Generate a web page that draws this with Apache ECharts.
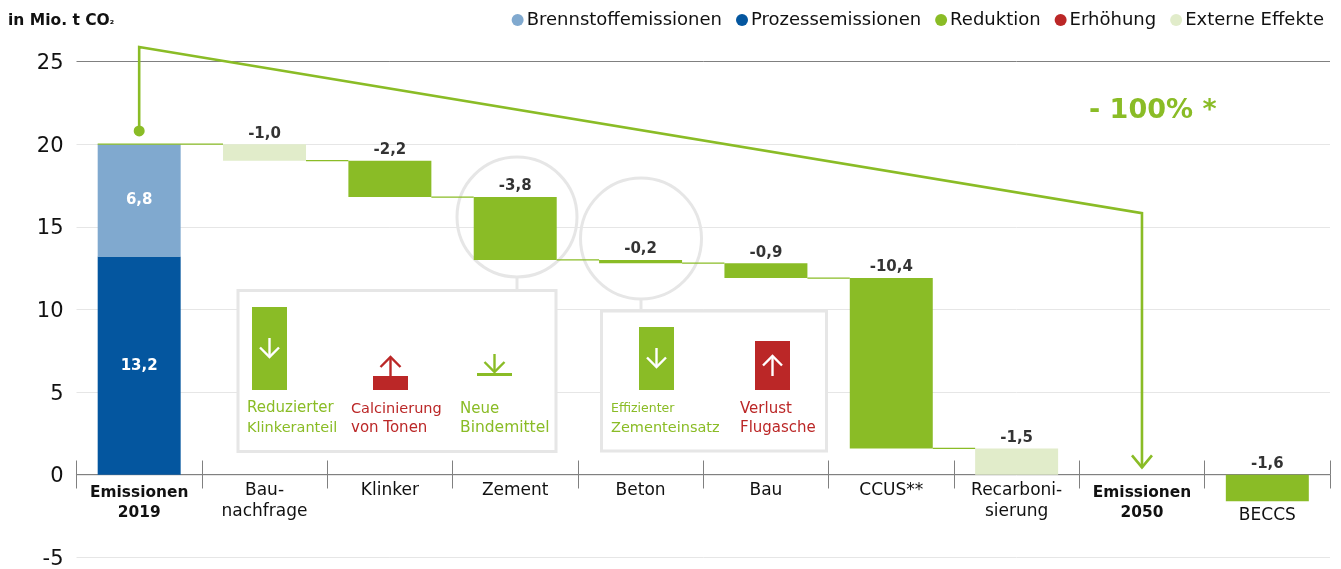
<!DOCTYPE html>
<html><head><meta charset="utf-8">
<style>html,body{margin:0;padding:0;background:#fff}#c{width:1341px;height:569px}</style>
<script src="https://cdn.jsdelivr.net/npm/echarts@6/dist/echarts.min.js"></script>
</head><body><div id="c"></div>
<script>
const categories=['Emissionen\n2019','Bau-\nnachfrage','Klinker','Zement','Beton','Bau','CCUS**','Recarboni-\nsierung','Emissionen\n2050','BECCS'];
const baseValues=[0,19,16.8,13,12.8,11.9,1.6,0,0,0];
const prozess=[13.2,null,null,null,null,null,null,null,null,null];
const brennstoff=[6.8,null,null,null,null,null,null,null,null,null];
const reduktion=[null,null,2.2,3.8,0.2,0.9,10.3,null,null,-1.6];
const erhoehung=[null,null,null,null,null,null,null,null,null,null];
const extern=[null,1,null,null,null,null,null,1.6,null,null];
const valueLabels=['','-1,0','-2,2','-3,8','-0,2','-0,9','-10,4','-1,5','','-1,6'];
const labelAnchors=[null,20,19,16.8,13,12.8,11.9,1.6,null,0];
const connectors=[[0,20],[1,19],[2,16.8],[3,13],[4,12.8],[5,11.9],[6,1.6]];
const guidePath=[[0,25.88],[8,15.83],[8,0.45]];
const guideStart=[0,20.8];
const yTicks=[-5,25,5];

const GREEN='#8abc26',RED='#bb2727',LGREEN='#e1ecca',LBLUE='#80a9cf',BLUE='#04569f',GREY='#e6e6e6',INK='#111';
const FONT='"DejaVu Sans"';
const HALF=0.331;

function stackBar(name,data,color,label){
  return {name,type:'bar',stack:'w',barWidth:'66.2%',data,itemStyle:{color},
    label:label||{show:false},emphasis:{disabled:true}};
}
const inLabel=(t)=>({show:true,position:'inside',formatter:t,color:'#fff',fontFamily:FONT,fontWeight:'bold',fontSize:15});

const arrowDown=(x,y1,y2,w,h,color,lw)=>[
 {type:'line',z:5,shape:{x1:x,y1,x2:x,y2},style:{stroke:color,lineWidth:lw}},
 {type:'polyline',z:5,shape:{points:[[x-w,y2-h],[x,y2],[x+w,y2-h]]},style:{stroke:color,lineWidth:lw,fill:null}}];
const arrowUp=(x,y1,y2,w,h,color,lw)=>[
 {type:'line',z:5,shape:{x1:x,y1,x2:x,y2},style:{stroke:color,lineWidth:lw}},
 {type:'polyline',z:5,shape:{points:[[x-w,y2+h],[x,y2],[x+w,y2+h]]},style:{stroke:color,lineWidth:lw,fill:null}}];
const rect=(x,y,width,height,fill)=>({type:'rect',z:4,shape:{x,y,width,height},style:{fill}});
const txt=(x,y,text,fill,size)=>({type:'text',z:5,x,y,style:{text,fill,font:`${size}px ${FONT}`,verticalAlign:'middle'}});
const frame=(x,y,width,height)=>({type:'rect',z:1,shape:{x,y,width,height},style:{fill:'#fff',stroke:GREY,lineWidth:3}});
const ring=(cx,cy,r)=>({type:'circle',z:1,shape:{cx,cy,r},style:{fill:null,stroke:GREY,lineWidth:3}});
const stub=(x,y1,y2)=>({type:'line',z:1,shape:{x1:x,y1,x2:x,y2},style:{stroke:GREY,lineWidth:3}});

const graphics=[
 ring(517,217,60),ring(641,238.5,60.5),stub(517,277,290),stub(641,299,311),
 frame(238,290.5,318,161),frame(601.5,311,225,140),
 rect(252,307,35,83,GREEN),...arrowDown(269.5,338,357,9.5,9.5,'#fff',2.4),
 rect(373,376,35,14,RED),...arrowUp(390.5,376,357,10,10,RED,2.4),
 rect(477,373,35,3,GREEN),...arrowDown(494.5,354,372,10,10,GREEN,2.4),
 txt(247,408,'Reduzierter',GREEN,15),txt(247,428,'Klinkeranteil',GREEN,14.5),
 txt(351,409,'Calcinierung',RED,14.5),txt(351,428,'von Tonen',RED,15),
 txt(460,409,'Neue',GREEN,15),txt(460,428,'Bindemittel',GREEN,15.5),
 rect(639,327,35,63,GREEN),...arrowDown(656.5,348,367,9.5,9.5,'#fff',2.4),
 rect(755,341,35,49,RED),...arrowUp(772.5,376,356,9.5,9.5,'#fff',2.4),
 txt(611,409,'Effizienter',GREEN,12.5),txt(611,428,'Zementeinsatz',GREEN,14.5),
 txt(740,409,'Verlust',RED,15),txt(740,428,'Flugasche',RED,15),
 {type:'text',z:5,x:8,y:13,style:{rich:{a:{fill:INK,fontWeight:'bold',fontSize:15.5,fontFamily:FONT},s:{fontSize:10,fontWeight:'bold',fontFamily:FONT,fill:INK}},text:'{a|in Mio. t CO}{s|₂}'}},
 {type:'text',z:5,x:1089,y:111,style:{text:'- 100% *',fill:GREEN,font:`bold 27px ${FONT}`,verticalAlign:'middle'}}
];

const chart=echarts.init(document.getElementById('c'),null,{renderer:'canvas'});
chart.setOption({
 animation:false,backgroundColor:'#fff',
 grid:{left:76.5,right:11,top:61.5,bottom:11.5,containLabel:false,outerBoundsMode:'none'},
 legend:{top:6,right:12,icon:'circle',itemWidth:12,itemHeight:12,itemGap:14,selectedMode:false,
   textStyle:{fontFamily:FONT,fontSize:18,color:INK,padding:[0,0,0,-2]},
   data:['Brennstoffemissionen','Prozessemissionen','Reduktion','Erhöhung','Externe Effekte']},
 xAxis:[
  {type:'category',data:categories,position:'bottom',offset:-83,axisLine:{onZero:false,lineStyle:{color:'#808080',width:1.2}},
   axisTick:{show:true,alignWithLabel:false,length:14,lineStyle:{color:'#808080',width:1}},
   axisLabel:{interval:0,margin:6,hideOverlap:false,
    formatter:(v)=>{
      if(v==='BECCS') return '{s|BECCS}';
      const bold=v.startsWith('Emissionen');
      return v.split('\n').map((l,i)=>bold?`{b${i}|${l}}`:`{n|${l}}`).join('\n');
    },
    rich:{
      n:{fontFamily:FONT,fontSize:17,color:INK,lineHeight:21},
      b0:{fontFamily:FONT,fontSize:15.4,fontWeight:'bold',color:INK,lineHeight:25},
      b1:{fontFamily:FONT,fontSize:15.4,fontWeight:'bold',color:INK,lineHeight:15},
      s:{fontFamily:FONT,fontSize:17,color:INK,lineHeight:71}
    }}},
  {type:'category',data:categories,position:'top',offset:-413,axisLine:{onZero:false,show:false},
   axisTick:{show:true,alignWithLabel:false,length:14,lineStyle:{color:'#808080',width:1}},
   axisLabel:{show:false}}
 ],
 yAxis:{type:'value',min:yTicks[0],max:yTicks[1],interval:yTicks[2],
   axisLine:{show:false},axisTick:{show:false},
   axisLabel:{fontFamily:FONT,fontSize:21,color:INK,margin:13,verticalAlign:'top',lineHeight:4},
   splitLine:{show:true,lineStyle:{width:1,color:[GREY,GREY,GREY,GREY,GREY,GREY,'#808080']}}},
 graphic:{elements:graphics},
 series:[
  {name:'base',type:'bar',stack:'w',barWidth:'66.2%',data:baseValues,itemStyle:{color:'transparent'},silent:true},
  stackBar('Prozessemissionen',prozess,BLUE,inLabel('13,2')),
  stackBar('Brennstoffemissionen',brennstoff,LBLUE,inLabel('6,8')),
  stackBar('Reduktion',reduktion,GREEN),
  stackBar('Erhöhung',erhoehung,RED),
  stackBar('Externe Effekte',extern,LGREEN),
  {name:'connectors',type:'custom',z:3,silent:true,data:connectors,clip:false,
   renderItem:(p,api)=>{
     const i=api.value(0),v=api.value(1),bw=api.size([1,0])[0];
     const a=api.coord([i,v]),b=api.coord([i+1,v]);
     const x1=a[0]+(i===0?-HALF:HALF)*bw,x2=b[0]-HALF*bw;
     return {type:'line',shape:{x1,y1:a[1],x2,y2:a[1]},style:{stroke:GREEN,lineWidth:1.3}};
   }},
  {name:'guide',type:'custom',z:6,silent:true,data:[guideStart],clip:false,
   renderItem:(p,api)=>{
     const s=api.coord(guideStart);
     const pts=[s,...guidePath.map(q=>api.coord(q))];
     const e=pts[pts.length-1];
     return {type:'group',children:[
       {type:'polyline',shape:{points:pts},style:{stroke:GREEN,lineWidth:2.6,fill:null}},
       {type:'polyline',shape:{points:[[e[0]-10,e[1]-12],e,[e[0]+10,e[1]-12]]},style:{stroke:GREEN,lineWidth:2.6,fill:null}},
       {type:'circle',shape:{cx:s[0],cy:s[1],r:5.5},style:{fill:GREEN}}
     ]};
   }},
  {name:'labels',type:'scatter',z:7,silent:true,symbolSize:0,
   data:labelAnchors.map((v,i)=>[i,v,valueLabels[i]]).filter(d=>d[1]!==null),
   label:{show:true,position:'top',distance:3,formatter:(p)=>p.data[2],fontFamily:FONT,fontSize:15,fontWeight:'bold',color:'#000'}}
 ]
});
</script></body></html>
